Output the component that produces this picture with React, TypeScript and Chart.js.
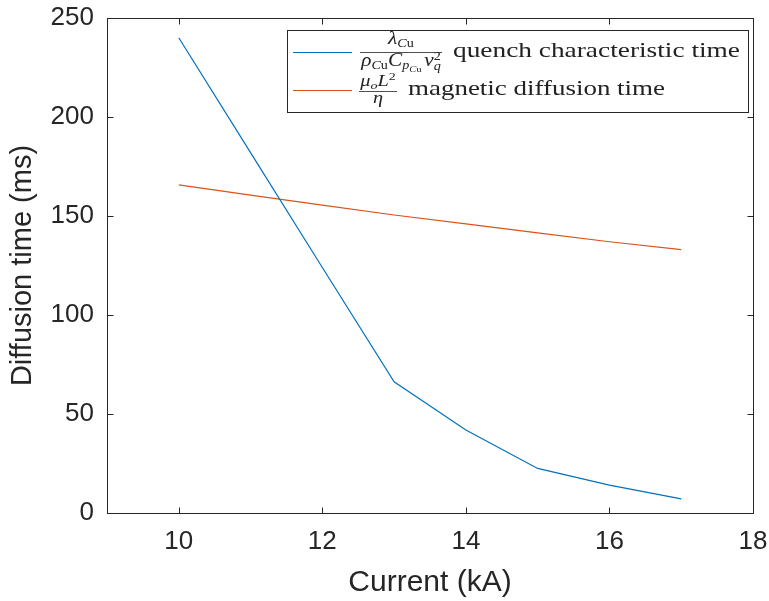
import React, { useEffect, useRef } from "react";
import { Chart, registerables } from "chart.js";

Chart.register(...registerables);

const currents = [10, 11, 12, 13, 14, 15, 16, 17];
const quenchTime = [240, 182, 124, 66.3, 41.9, 22.5, 14.1, 7.1];
const diffusionTime = [165.7, 160.5, 155.5, 150.5, 146, 141.5, 137, 133];
const xTicks = [10, 12, 14, 16, 18];
const yTicks = [0, 50, 100, 150, 200, 250];
const xTitle = "Current (kA)";
const yTitle = "Diffusion time (ms)";
const legendTexts = ["quench characteristic time", "magnetic diffusion time"];

const BLUE = "#0072BD";
const ORANGE = "#D95319";
const AXIS = "#262626";
const SANS = '"Liberation Sans", Arial, sans-serif';
const SERIF = '"Liberation Serif", "DejaVu Serif", serif';

type Run = { t: string; it?: boolean; s: number; dy?: number; stay?: boolean };

function runFont(r: Run) {
  return `${r.it ? "italic " : ""}${r.s}px ${SERIF}`;
}

function measureRuns(ctx: CanvasRenderingContext2D, runs: Run[]) {
  let w = 0;
  let maxW = 0;
  runs.forEach((r) => {
    ctx.font = runFont(r);
    const rw = ctx.measureText(r.t).width;
    if (r.stay) {
      maxW = Math.max(maxW, w + rw);
    } else {
      w += rw;
    }
  });
  return Math.max(w, maxW);
}

function drawRuns(ctx: CanvasRenderingContext2D, runs: Run[], x: number, y: number) {
  let cx = x;
  runs.forEach((r) => {
    ctx.font = runFont(r);
    ctx.fillText(r.t, cx, y + (r.dy || 0));
    if (!r.stay) cx += ctx.measureText(r.t).width;
  });
}

// Draws a stacked fraction scaled horizontally so its bar spans [x, x + width]
function drawFraction(
  ctx: CanvasRenderingContext2D,
  num: Run[],
  den: Run[],
  x: number,
  width: number,
  barY: number,
  numGap: number,
  denGap: number
) {
  const wn = measureRuns(ctx, num);
  const wd = measureRuns(ctx, den);
  const w = Math.max(wn, wd) + 2;
  const sx = width / w;
  ctx.save();
  ctx.translate(x, 0);
  ctx.scale(sx, 1);
  drawRuns(ctx, num, (w - wn) / 2, barY - numGap);
  drawRuns(ctx, den, (w - wd) / 2, barY + denGap);
  ctx.restore();
  ctx.beginPath();
  ctx.moveTo(x, barY + 0.5);
  ctx.lineTo(x + width, barY + 0.5);
  ctx.lineWidth = 0.8;
  ctx.strokeStyle = "#222";
  ctx.stroke();
}

function drawStretchedText(
  ctx: CanvasRenderingContext2D,
  text: string,
  font: string,
  x: number,
  y: number,
  width: number
) {
  ctx.font = font;
  const w = ctx.measureText(text).width;
  ctx.save();
  ctx.translate(x, y);
  ctx.scale(width / w, 1);
  ctx.fillText(text, 0, 0);
  ctx.restore();
}

const framePlugin = {
  id: "frame",
  afterDatasetsDraw(chart: any) {
    const { ctx, chartArea: a, scales } = chart;
    const x = scales.x;
    const y = scales.y;
    ctx.save();
    ctx.strokeStyle = AXIS;
    ctx.lineWidth = 1;
    const L = 6;
    const seg = (x1: number, y1: number, x2: number, y2: number) => {
      ctx.beginPath();
      ctx.moveTo(x1, y1);
      ctx.lineTo(x2, y2);
      ctx.stroke();
    };
    const l = Math.round(a.left) + 0.5;
    const r = Math.round(a.right) + 0.5;
    const t = Math.round(a.top) + 0.5;
    const b = Math.round(a.bottom) + 0.5;
    ctx.strokeRect(l, t, r - l, b - t);
    x.ticks.forEach((tk: any) => {
      const px = Math.round(x.getPixelForValue(tk.value)) + 0.5;
      seg(px, b, px, b - L);
      seg(px, t, px, t + L);
    });
    y.ticks.forEach((tk: any) => {
      const py = Math.round(y.getPixelForValue(tk.value)) + 0.5;
      seg(l, py, l + L, py);
      seg(r, py, r - L, py);
    });
    ctx.restore();
  },
};

const legendPlugin = {
  id: "mathLegend",
  afterDraw(chart: any) {
    const { ctx } = chart;
    ctx.save();
    const bx = 287.5;
    const by = 30.5;
    const bw = 461;
    const bh = 82;
    ctx.fillStyle = "#fff";
    ctx.fillRect(bx, by, bw, bh);
    ctx.strokeStyle = AXIS;
    ctx.lineWidth = 1;
    ctx.strokeRect(bx, by, bw, bh);

    const ds = chart.data.datasets;
    const rows = [52, 90];
    rows.forEach((ry, i) => {
      ctx.beginPath();
      ctx.moveTo(293, ry + 0.5);
      ctx.lineTo(352, ry + 0.5);
      ctx.strokeStyle = ds[i].borderColor;
      ctx.lineWidth = 1.2;
      ctx.stroke();
    });

    ctx.fillStyle = "#222";
    ctx.textBaseline = "alphabetic";
    ctx.textAlign = "left";

    // first fraction: lambda_Cu / (rho_Cu C_p_Cu v_q^2)
    const num1: Run[] = [
      { t: "λ", it: true, s: 18 },
      { t: "C", it: true, s: 12, dy: 3 },
      { t: "u", s: 12, dy: 3 },
    ];
    const den1: Run[] = [
      { t: "ρ", it: true, s: 18 },
      { t: "C", it: true, s: 12, dy: 3 },
      { t: "u", s: 12, dy: 3 },
      { t: "C", it: true, s: 18 },
      { t: "p", it: true, s: 12, dy: 3 },
      { t: "C", it: true, s: 9, dy: 6 },
      { t: "u ", s: 9, dy: 6 },
      { t: "v", it: true, s: 18 },
      { t: "2", s: 12, dy: -6, stay: true },
      { t: "q", it: true, s: 12, dy: 4 },
    ];
    drawFraction(ctx, num1, den1, 360, 82, 52, 8, 14);
    drawStretchedText(ctx, legendTexts[0], `22px ${SERIF}`, 453, 57, 287);

    // second fraction: mu_o L^2 / eta
    const num2: Run[] = [
      { t: "μ", it: true, s: 16 },
      { t: "o", it: true, s: 11, dy: 3 },
      { t: "L", it: true, s: 16 },
      { t: "2", s: 11, dy: -6 },
    ];
    const den2: Run[] = [{ t: "η", it: true, s: 16 }];
    drawFraction(ctx, num2, den2, 359, 38, 91, 5, 12);
    drawStretchedText(ctx, legendTexts[1], `22px ${SERIF}`, 408, 95, 257);
    ctx.restore();
  },
};

export default function App() {
  const ref = useRef<HTMLCanvasElement | null>(null);

  useEffect(() => {
    if (!ref.current) return;
    const chart = new Chart(ref.current, {
      type: "line",
      data: {
        datasets: [
          {
            label: legendTexts[0],
            data: currents.map((c, i) => ({ x: c, y: quenchTime[i] })),
            borderColor: BLUE,
            backgroundColor: BLUE,
            borderWidth: 1.2,
            pointRadius: 0,
            tension: 0,
          },
          {
            label: legendTexts[1],
            data: currents.map((c, i) => ({ x: c, y: diffusionTime[i] })),
            borderColor: ORANGE,
            backgroundColor: ORANGE,
            borderWidth: 1.2,
            pointRadius: 0,
            tension: 0,
          },
        ],
      },
      options: {
        responsive: false,
        animation: false,
        layout: { padding: { left: 0, right: 16, top: 18, bottom: 0 } },
        plugins: {
          legend: { display: false },
          tooltip: { enabled: false },
        },
        scales: {
          x: {
            type: "linear",
            min: 9,
            max: 18,
            grid: { display: false, drawTicks: false },
            border: { display: false },
            afterBuildTicks: (s: any) => {
              s.ticks = xTicks.map((v) => ({ value: v }));
            },
            afterFit: (s: any) => {
              s.height = 88;
              s.paddingLeft = 0;
              s.paddingRight = 0;
            },
            ticks: {
              color: AXIS,
              padding: 13,
              maxRotation: 0,
              font: { family: SANS, size: 26 },
            },
            title: {
              display: true,
              text: xTitle,
              color: AXIS,
              padding: { top: 0, bottom: 0 },
              font: { family: SANS, size: 30 },
            },
          },
          y: {
            type: "linear",
            min: 0,
            max: 250,
            grid: { display: false, drawTicks: false },
            border: { display: false },
            afterBuildTicks: (s: any) => {
              s.ticks = yTicks.map((v) => ({ value: v }));
            },
            afterFit: (s: any) => {
              s.width = 107;
              s.paddingTop = 0;
              s.paddingBottom = 0;
            },
            ticks: {
              color: AXIS,
              padding: 13,
              font: { family: SANS, size: 26 },
            },
            title: {
              display: true,
              text: yTitle,
              color: AXIS,
              padding: { top: 6, bottom: 0 },
              font: { family: SANS, size: 29 },
            },
          },
        },
      },
      plugins: [framePlugin, legendPlugin],
    } as any);
    return () => chart.destroy();
  }, []);

  return (
    <div style={{ position: "fixed", left: 0, top: 0, width: 769, height: 601, background: "#fff" }}>
      <canvas ref={ref} width={769} height={601} style={{ display: "block" }} />
    </div>
  );
}
